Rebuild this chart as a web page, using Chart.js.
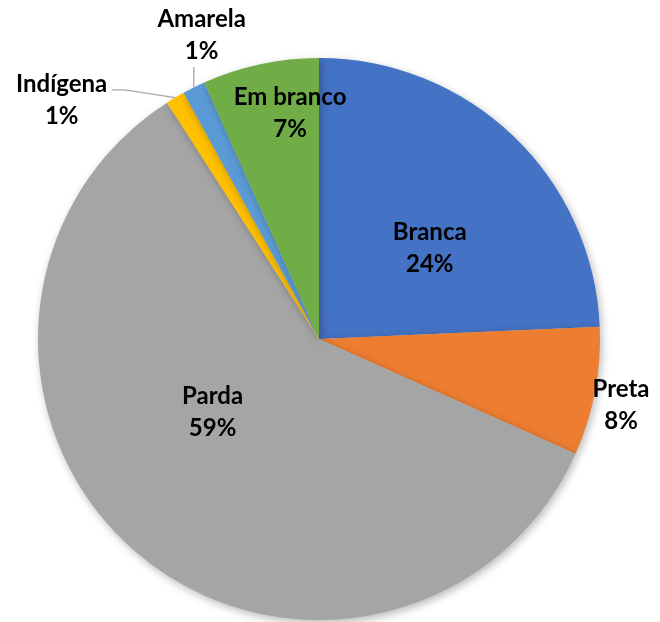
<!DOCTYPE html>
<html>
<head>
<meta charset="utf-8">
<script src="https://cdn.jsdelivr.net/npm/chart.js@4/dist/chart.umd.min.js"></script>
<style>
html,body{margin:0;padding:0;background:#fff;}
#wrap{width:660px;height:622px;position:relative;}
</style>
</head>
<body>
<div id="wrap"><canvas id="c" width="660" height="622"></canvas></div>
<script>
const categories = ["Branca", "Preta", "Parda", "Indígena", "Amarela", "Em branco"];
const values = [24.3, 7.4, 59.2, 1.1, 1.3, 6.7];
const percentLabels = ["24%", "8%", "59%", "1%", "1%", "7%"];
const colors = ["#4472C4", "#ED7D31", "#A5A5A5", "#FFC000", "#5B9BD5", "#70AD47"];

// label placement: angle (deg, clockwise from top) and distance as fraction of radius; leader flag
const labelPlace = [
  {a: 50.6, r: 0.51},
  {a: 102.3, r: 1.10},
  {a: 235.4, r: 0.46},
  {a: 312.9, r: 1.25, leader: "elbow"},
  {a: 338.9, r: 1.16, leader: "vertical"},
  {a: 352.7, r: 0.81}
];

const FONT = "bold 24px Lato, 'Open Sans', sans-serif";
const LINE_H = 32;

const shadowPlugin = {
  id: 'shadow',
  beforeDatasetDraw(chart) {
    const ctx = chart.ctx;
    ctx.save();
    ctx.shadowColor = 'rgba(0,0,0,0.28)';
    ctx.shadowBlur = 8;
    ctx.shadowOffsetX = 2;
    ctx.shadowOffsetY = 3;
  },
  afterDatasetDraw(chart) {
    chart.ctx.restore();
  }
};

const labelPlugin = {
  id: 'pieLabels',
  afterDatasetsDraw(chart) {
    const ctx = chart.ctx;
    const meta = chart.getDatasetMeta(0);
    ctx.save();
    ctx.font = FONT;
    meta.data.forEach((arc, i) => {
      const p = labelPlace[i];
      const cx = arc.x, cy = arc.y, R = arc.outerRadius;
      const ang = p.a * Math.PI / 180;
      const lx = cx + Math.sin(ang) * R * p.r;
      const ly = cy - Math.cos(ang) * R * p.r;
      const mid = (arc.startAngle + arc.endAngle) / 2;
      const ex = cx + Math.cos(mid) * R;
      const ey = cy + Math.sin(mid) * R;
      ctx.strokeStyle = '#A6A6A6';
      ctx.lineWidth = 1.3;
      if (p.leader === 'vertical') {
        ctx.beginPath();
        ctx.moveTo(ex, ly + LINE_H / 2 + 16);
        ctx.lineTo(ex, ey);
        ctx.stroke();
      } else if (p.leader === 'elbow') {
        const sy = ly - 10;
        const w = ctx.measureText(categories[i]).width;
        const sx = lx + w / 2 + 5;
        ctx.beginPath();
        ctx.moveTo(sx, sy);
        ctx.lineTo(sx + 12, sy);
        ctx.lineTo(ex, ey);
        ctx.stroke();
      }
      ctx.fillStyle = '#000';
      ctx.textAlign = 'center';
      ctx.textBaseline = 'middle';
      ctx.fillText(categories[i], lx, ly - LINE_H / 2);
      ctx.fillText(percentLabels[i], lx, ly + LINE_H / 2);
    });
    ctx.restore();
  }
};

new Chart(document.getElementById('c'), {
  type: 'pie',
  data: {
    labels: categories,
    datasets: [{
      data: values,
      backgroundColor: colors,
      borderWidth: 0
    }]
  },
  options: {
    responsive: false,
    animation: false,
    layout: {padding: {top: 58, bottom: 2, left: 38, right: 60}},
    plugins: {legend: {display: false}, tooltip: {enabled: false}}
  },
  plugins: [shadowPlugin, labelPlugin]
});
</script>
</body>
</html>
